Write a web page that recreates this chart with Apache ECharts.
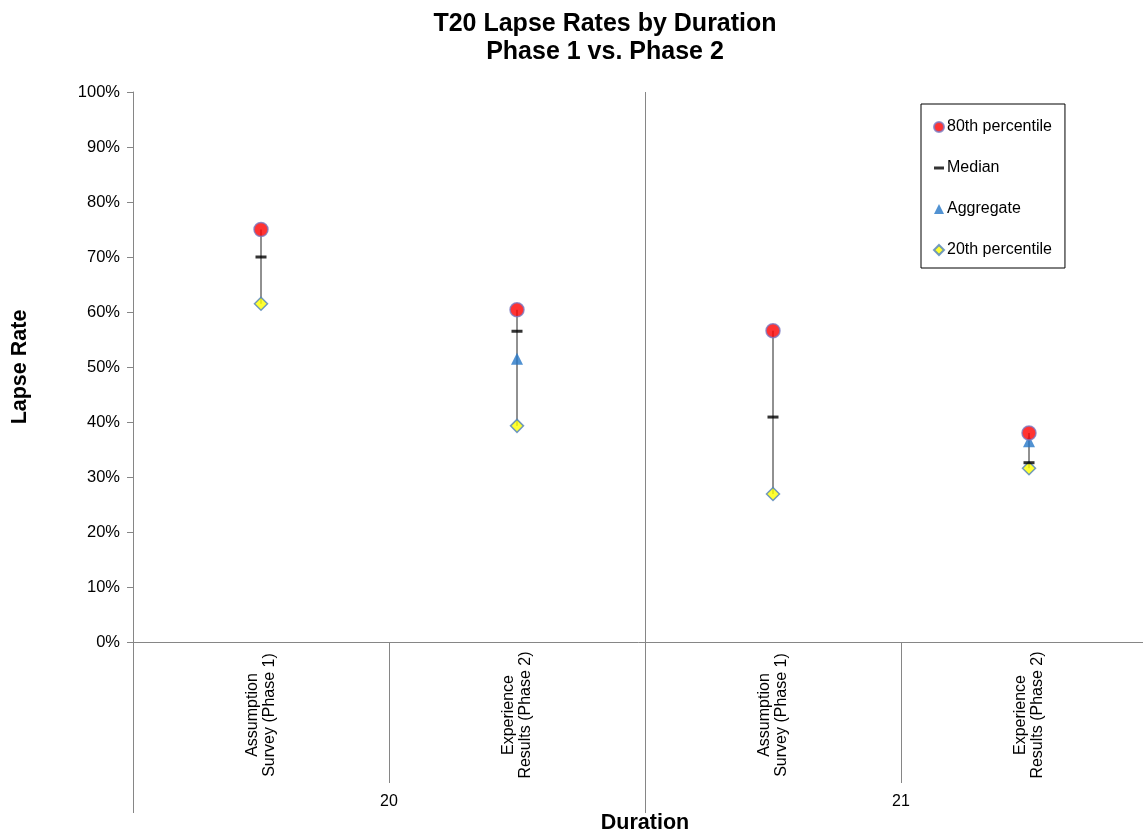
<!DOCTYPE html>
<html>
<head>
<meta charset="utf-8">
<script src="https://cdn.jsdelivr.net/npm/echarts@6/dist/echarts.min.js"></script>
<style>html,body{margin:0;padding:0;background:#fff}#c{width:1143px;height:831px}</style>
</head>
<body>
<div id="c"></div>
<script>
const categories = ['Assumption\nSurvey (Phase 1)', 'Experience\nResults (Phase 2)', 'Assumption\nSurvey (Phase 1)', 'Experience\nResults (Phase 2)'];
const durations = ['20', '21'];
const p80 = [75, 60.4, 56.6, 38.0];
const median = [70, 56.5, 40.9, 32.6];
const aggregate = [null, 51.5, null, 36.5];
const p20 = [61.5, 39.3, 26.9, 31.6];
const yTicks = { min: 0, max: 100, interval: 10 };

const font = 'Liberation Sans, Arial, sans-serif';
const axisGray = '#868686';

const chart = echarts.init(document.getElementById('c'));
chart.setOption({
  animation: false,
  backgroundColor: '#fff',
  title: {
    text: 'T20 Lapse Rates by Duration\nPhase 1 vs. Phase 2',
    left: 600, top: 5, textAlign: 'center',
    textStyle: { fontFamily: font, fontSize: 25, fontWeight: 'bold', color: '#000', lineHeight: 28 }
  },
  legend: {
    orient: 'vertical', left: 921, top: 104,
    padding: [15, 13, 10, 12], itemGap: 25, itemWidth: 10, itemHeight: 10,
    borderColor: '#000', borderWidth: 1,
    textStyle: { fontFamily: font, fontSize: 16, color: '#000', padding: [0, 0, 0, -2] },
    data: [
      { name: '80th percentile', icon: 'circle' },
      { name: 'Median', icon: 'path://M0,0H10V3H0Z' },
      { name: 'Aggregate', icon: 'triangle' },
      { name: '20th percentile', icon: 'diamond' }
    ]
  },
  grid: { left: 133, top: 92, right: -14, bottom: 189, containLabel: false, outerBoundsMode: 'none' },
  xAxis: [
    {
      type: 'category', data: categories, position: 'bottom',
      name: 'Duration', nameLocation: 'middle', nameGap: 170,
      nameTextStyle: { fontFamily: font, fontSize: 21.5, fontWeight: 'bold', color: '#000' },
      axisLine: { lineStyle: { color: axisGray, width: 1 } },
      axisTick: { show: true, length: 141, interval: 0, lineStyle: { color: axisGray } },
      axisLabel: {
        rotate: 90, align: 'center', verticalAlign: 'middle', margin: 73, interval: 0,
        fontFamily: font, fontSize: 16, color: '#000', lineHeight: 17.5, padding: [6, 0, 0, 0]
      }
    },
    {
      type: 'category', data: durations, position: 'bottom',
      axisLine: { show: false },
      axisTick: { show: true, length: 171, interval: 0, lineStyle: { color: axisGray } },
      splitLine: { show: true, interval: 0, lineStyle: { color: axisGray, width: 1 } },
      axisLabel: { margin: 152, fontFamily: font, fontSize: 16, color: '#000' }
    }
  ],
  yAxis: {
    type: 'value', min: yTicks.min, max: yTicks.max, interval: yTicks.interval,
    name: 'Lapse Rate', nameLocation: 'middle', nameGap: 102,
    nameTextStyle: { fontFamily: font, fontSize: 21.5, fontWeight: 'bold', color: '#000' },
    axisLine: { show: true, lineStyle: { color: axisGray } },
    axisTick: { show: true, length: 6, lineStyle: { color: axisGray } },
    splitLine: { show: false },
    axisLabel: { formatter: '{value}%', margin: 13, fontFamily: font, fontSize: 16.5, color: '#000' }
  },
  series: [
    {
      type: 'custom', name: 'range', xAxisIndex: 0, silent: true, z: 1,
      data: categories.map((c, i) => [i, p80[i], p20[i]]),
      renderItem: function (params, api) {
        const top = api.coord([api.value(0), api.value(1)]);
        const bot = api.coord([api.value(0), api.value(2)]);
        return { type: 'line', shape: { x1: top[0], y1: top[1], x2: bot[0], y2: bot[1] },
                 style: { stroke: '#222', lineWidth: 1 } };
      }
    },
    {
      type: 'scatter', name: '20th percentile', z: 3, symbol: 'diamond', symbolSize: 13,
      itemStyle: { color: '#ffff00', borderColor: '#4f81bd', borderWidth: 1.5 },
      data: p20
    },
    {
      type: 'scatter', name: 'Median', z: 3, symbol: 'rect', symbolSize: [11, 3],
      itemStyle: { color: '#000' },
      data: median
    },
    {
      type: 'scatter', name: 'Aggregate', z: 4, symbol: 'triangle', symbolSize: 12,
      itemStyle: { color: '#2677c7' },
      data: aggregate.map(v => v === null ? '-' : v)
    },
    {
      type: 'scatter', name: '80th percentile', z: 5, symbol: 'circle', symbolSize: 14,
      itemStyle: { color: '#ff0000', borderColor: '#7a78c0', borderWidth: 1.5 },
      data: p80
    }
  ]
});
</script>
</body>
</html>
